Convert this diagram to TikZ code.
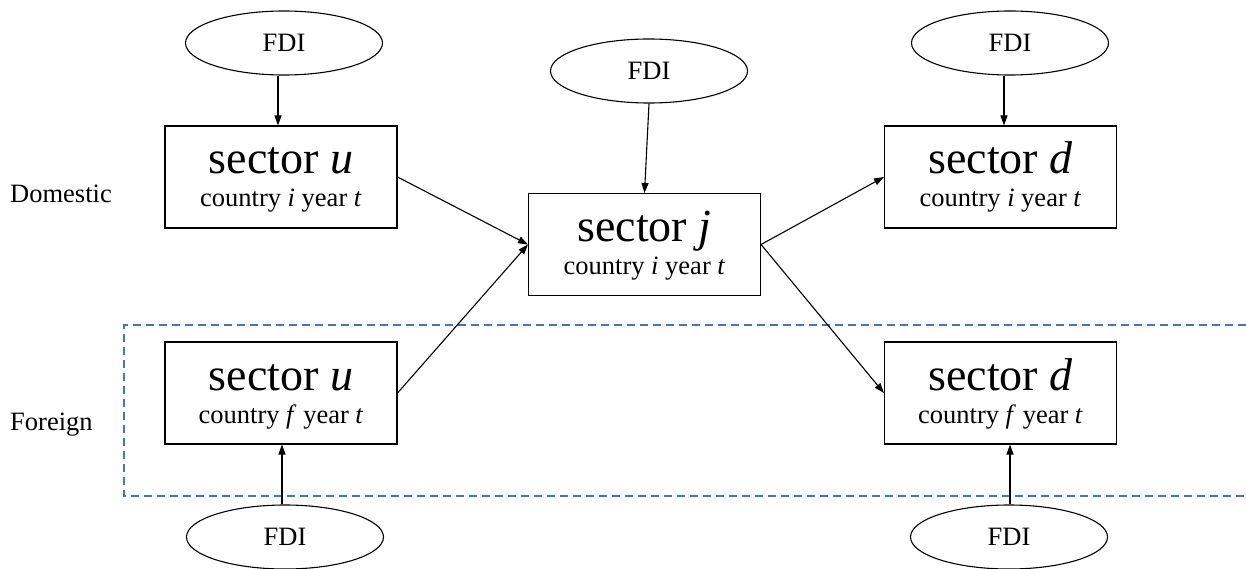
\documentclass[tikz,border=0pt]{standalone}
\usepackage{fontspec}
\setmainfont{Liberation Serif}
\usetikzlibrary{arrows.meta,shapes.geometric}
\definecolor{dashblue}{HTML}{4472C4}
\tikzset{
  box/.style={draw, line width=1.1pt, minimum width=232pt, minimum height=102pt, inner sep=0pt},
  fdi/.style={draw, ellipse, line width=1.1pt, minimum width=197pt, minimum height=64pt, inner sep=0pt, font=\fontsize{26.5}{30}\selectfont},
  big/.style={anchor=base, inner sep=0pt, font=\fontsize{46}{50}\selectfont},
  small/.style={anchor=base, inner sep=0pt, font=\fontsize{26.5}{30}\selectfont},
  side/.style={anchor=base west, inner sep=0pt, font=\fontsize{26.5}{30}\selectfont},
  arr/.style={-{Triangle[length=10pt,width=7pt]}, line width=1.1pt},
  region/.style={draw=dashblue, line width=1.3pt, dash pattern=on 8pt off 5pt}
}
\begin{document}
\begin{tikzpicture}[x=1pt,y=-1pt]
\useasboundingbox (0,0) rectangle (1246,569);
% boxes
\node[box] (ud) at (281,177) {};
\node[box] (j)  at (644.5,244.5) {};
\node[box] (dd) at (1000.5,177) {};
\node[box] (uf) at (281,393) {};
\node[box] (df) at (1000.5,393) {};
% box texts
\node[big] (udt) at (281,174) {sector \textit{u}};
\node[small] (udc) at (281,207) {country \textit{i} year \textit{t}};
\node[big] (jt) at (644.5,241.5) {sector \textit{j}};
\node[small] (jc) at (644.5,274.5) {country \textit{i} year \textit{t}};
\node[big] (ddt) at (1000.5,174) {sector \textit{d}};
\node[small] (ddc) at (1000.5,207) {country \textit{i} year \textit{t}};
\node[big] (uft) at (281,390) {sector \textit{u}};
\node[small] (ufc) at (281,423) {country \textit{f} year \textit{t}};
\node[big] (dft) at (1000.5,390) {sector \textit{d}};
\node[small] (dfc) at (1000.5,423) {country \textit{f} year \textit{t}};
% FDI ellipses
\node[fdi] (e1) at (284,43) {FDI};
\node[fdi] (em) at (649,71) {FDI};
\node[fdi] (e3) at (1010,43) {FDI};
\node[fdi] (e4) at (285,537) {FDI};
\node[fdi] (e5) at (1009,537) {FDI};
% side labels
\node[side] (dom) at (10,203) {Domestic};
\node[side] (for) at (10,430) {Foreign};
% region
\coordinate (rtr) at (1246,325);
\coordinate (rtl) at (124,325);
\coordinate (rbl) at (124,496);
\coordinate (rbr) at (1246,496);
\draw[region] (rtr) -- (rtl) -- (rbl) -- (rbr);
% connectors
\draw[arr] (e1.south -| 278,0) -- (ud.north -| 278,0);
\draw[arr] (em.south) -- (j.north);
\draw[arr] (e3.south -| 1004,0) -- (dd.north -| 1004,0);
\draw[arr] (e4.north -| 282,0) -- (uf.south -| 282,0);
\draw[arr] (e5.north -| 1010,0) -- (df.south -| 1010,0);
\draw[arr] (ud.east) -- (j.west);
\draw[arr] (uf.east) -- (j.west);
\draw[arr] (j.east) -- (dd.west);
\draw[arr] (j.east) -- (df.west);
\end{tikzpicture}
\end{document}
